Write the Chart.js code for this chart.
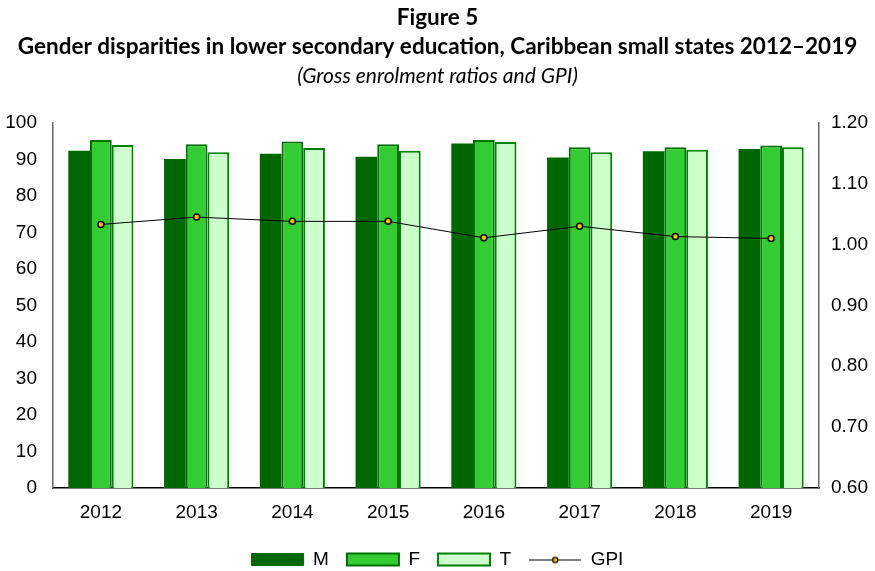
<!DOCTYPE html>
<html>
<head>
<meta charset="utf-8">
<script src="https://cdn.jsdelivr.net/npm/chart.js@4"></script>
<style>
  html, body { margin: 0; padding: 0; background: #fff; }
  #wrap { width: 875px; height: 571px; }
</style>
</head>
<body>
<div id="wrap"><canvas id="chart" width="875" height="571"></canvas></div>
<script>
/* Dados */
const anos     = ['2012', '2013', '2014', '2015', '2016', '2017', '2018', '2019'];
const valoresM = [92.3, 90.1, 91.5, 90.7, 94.3, 90.5, 92.2, 92.8];
const valoresF = [95.3, 94.1, 94.9, 94.1, 95.3, 93.3, 93.3, 93.8];
const valoresT = [93.9, 91.9, 93.1, 92.3, 94.7, 91.9, 92.6, 93.3];
const valoresGPI = [1.033, 1.045, 1.038, 1.038, 1.011, 1.030, 1.013, 1.010];

const tituloLinhas = ['Figure 5', 'Gender disparities in lower secondary education, Caribbean small states 2012\u20132019'];
const subtitulo    = '(Gross enrolment ratios and GPI)';

/* Ícone da legenda do GPI: linha com ponto */
const iconeGPI = document.createElement('canvas');
iconeGPI.width = 52;
iconeGPI.height = 10;
{
    const c = iconeGPI.getContext('2d');
    c.strokeStyle = '#000';
    c.lineWidth = 1;
    c.beginPath();
    c.moveTo(0, 5.5);
    c.lineTo(52, 5.5);
    c.stroke();
    c.beginPath();
    c.arc(26, 5.5, 2.6, 0, Math.PI * 2);
    c.fillStyle = '#FFC000';
    c.fill();
    c.lineWidth = 1.3;
    c.stroke();
}

const fonteEixo = { family: '"Liberation Sans", Arial, sans-serif', size: 19 };

new Chart(document.getElementById('chart'), {
    data: {
        labels: anos,
        datasets: [
            {
                type: 'line', label: 'GPI', data: valoresGPI, yAxisID: 'y1', order: 0,
                borderColor: '#000', borderWidth: 1, tension: 0,
                pointRadius: 3, pointBackgroundColor: '#FFC000',
                pointBorderColor: '#000', pointBorderWidth: 1.5
            },
            {
                type: 'bar', label: 'M', data: valoresM, yAxisID: 'y', order: 1,
                backgroundColor: '#006600', borderColor: '#006600', borderWidth: 0
            },
            {
                type: 'bar', label: 'F', data: valoresF, yAxisID: 'y', order: 1,
                backgroundColor: '#33CC33', borderColor: '#006E00', borderWidth: 2
            },
            {
                type: 'bar', label: 'T', data: valoresT, yAxisID: 'y', order: 1,
                backgroundColor: '#CCFFCC', borderColor: '#008000', borderWidth: 2
            }
        ]
    },
    options: {
        responsive: false,
        animation: false,
        devicePixelRatio: 1,
        layout: { padding: { left: 0, right: 0, top: 0, bottom: -8 } },
        datasets: {
            bar: { categoryPercentage: 0.68, barPercentage: 1.0, borderSkipped: 'bottom' }
        },
        plugins: {
            tooltip: { enabled: false },
            title: {
                display: true,
                text: tituloLinhas,
                color: '#000',
                font: { family: 'Lato, "Open Sans", sans-serif', size: 22.5, weight: 'bold', lineHeight: 1.29 },
                padding: { top: 3.5, bottom: 2 }
            },
            subtitle: {
                display: true,
                text: subtitulo,
                color: '#000',
                font: { family: 'Lato, "Open Sans", sans-serif', size: 21, style: 'italic', lineHeight: 1.2 },
                padding: { top: 0, bottom: 34 }
            },
            legend: {
                position: 'bottom',
                labels: {
                    color: '#000',
                    font: fonteEixo,
                    usePointStyle: true,
                    pointStyleWidth: 52,
                    boxHeight: 12,
                    padding: 18,
                    generateLabels: () => [
                        { text: 'M', fillStyle: '#006600', strokeStyle: '#006600', lineWidth: 1, pointStyle: 'rect', datasetIndex: 1 },
                        { text: 'F', fillStyle: '#33CC33', strokeStyle: '#006E00', lineWidth: 2, pointStyle: 'rect', datasetIndex: 2 },
                        { text: 'T', fillStyle: '#CCFFCC', strokeStyle: '#008000', lineWidth: 2, pointStyle: 'rect', datasetIndex: 3 },
                        { text: 'GPI', fillStyle: '#000', strokeStyle: '#000', lineWidth: 0, pointStyle: iconeGPI, datasetIndex: 0 }
                    ]
                }
            }
        },
        scales: {
            x: {
                grid: { display: false, drawTicks: false },
                border: { display: true, color: '#000', width: 1.5 },
                ticks: { color: '#000', font: fonteEixo, padding: 13 },
                afterFit: (s) => { s.height = 44; }
            },
            y: {
                position: 'left',
                min: 0, max: 100,
                grid: { display: false, drawTicks: false },
                border: { display: true, color: '#666', width: 1.5 },
                ticks: { stepSize: 10, color: '#000', font: fonteEixo, padding: 16 },
                afterFit: (s) => { s.width = 53; }
            },
            y1: {
                position: 'right',
                min: 0.6, max: 1.2,
                grid: { display: false, drawOnChartArea: false, tickLength: 4, color: '#666' },
                border: { display: true, color: '#666', width: 1.5 },
                ticks: { stepSize: 0.1, color: '#000', font: fonteEixo, padding: 8,
                         callback: (v) => Number(v).toFixed(2) },
                afterFit: (s) => { s.width = 56; }
            }
        }
    }
});
</script>
</body>
</html>
